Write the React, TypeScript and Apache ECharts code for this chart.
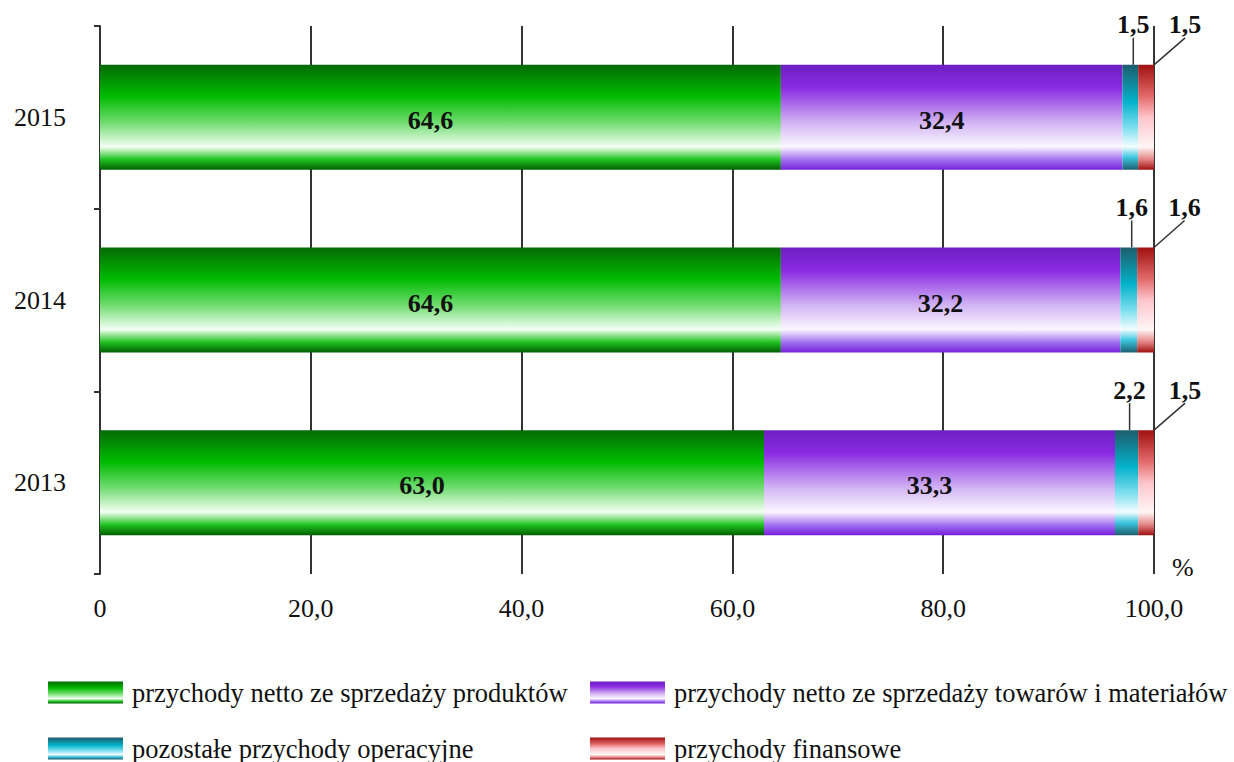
import React, { useEffect, useRef } from "react";
import * as echarts from "echarts";

const years = ["2013", "2014", "2015"];
const seriesNames = [
  "przychody netto ze sprzedaży produktów",
  "przychody netto ze sprzedaży towarów i materiałów",
  "pozostałe przychody operacyjne",
  "przychody finansowe",
];
const produkty = [63.0, 64.6, 64.6];
const towary = [33.3, 32.2, 32.4];
const pozostale = [2.2, 1.6, 1.5];
const finansowe = [1.5, 1.6, 1.5];
const xTicks = [0, 20, 40, 60, 80, 100];

const FONT = "'Liberation Serif', 'Times New Roman', serif";
const FS = 26;

const grad = (stops: [number, string][]) =>
  new echarts.graphic.LinearGradient(
    0,
    0,
    0,
    1,
    stops.map(([offset, color]) => ({ offset, color }))
  );

const greenGrad = () =>
  grad([
    [0, "#056a05"],
    [0.3, "#00bb00"],
    [0.55, "#70dc70"],
    [0.78, "#f4fff4"],
    [0.9, "#22c422"],
    [1, "#005e00"],
  ]);
const purpleGrad = () =>
  grad([
    [0, "#6c1fc4"],
    [0.22, "#8a2be2"],
    [0.55, "#d2b4f4"],
    [0.78, "#fbf7ff"],
    [0.9, "#a474f0"],
    [1, "#7420dc"],
  ]);
const cyanGrad = () =>
  grad([
    [0, "#1d5d6d"],
    [0.35, "#03b2ca"],
    [0.6, "#7fdff0"],
    [0.78, "#f2fdff"],
    [0.88, "#3ec8e0"],
    [1, "#1a5f70"],
  ]);
const redGrad = () =>
  grad([
    [0, "#a01010"],
    [0.3, "#e26a6a"],
    [0.5, "#ffc4cb"],
    [0.78, "#fff6f6"],
    [0.9, "#e48484"],
    [1, "#a01010"],
  ]);

const fmt = (v: number) => v.toFixed(1).replace(".", ",");

export default function App() {
  const ref = useRef<HTMLDivElement>(null);

  useEffect(() => {
    if (!ref.current) return;
    const chart = echarts.init(ref.current, null, { renderer: "svg" });

    const insideLabel = {
      show: true,
      position: "inside",
      offset: [-10, 3],
      fontFamily: FONT,
      fontSize: FS,
      fontWeight: "bold",
      color: "#111",
      formatter: (p: any) => fmt(p.value),
    };
    const outsideLabel = {
      show: true,
      position: "top",
      fontFamily: FONT,
      fontSize: FS,
      fontWeight: "bold",
      color: "#111",
      formatter: (p: any) => fmt(p.value),
    };
    const leader = {
      show: true,
      lineStyle: { color: "#333", width: 1.5 },
    };

    const barWidth = 105;

    const legendCommon = {
      orient: "vertical",
      top: 674,
      height: 90,
      itemWidth: 75,
      itemHeight: 22,
      itemGap: 29,
      icon: "rect",
      textStyle: { fontFamily: FONT, fontSize: 26.5, color: "#111", padding: [0, 0, 0, 4] },
    };

    chart.setOption({
      animation: false,
      backgroundColor: "#fff",
      textStyle: { fontFamily: FONT },
      grid: { left: 100, right: 80, top: 26, bottom: 188, containLabel: false },
      xAxis: {
        type: "value",
        min: xTicks[0],
        max: xTicks[xTicks.length - 1],
        interval: xTicks[1] - xTicks[0],
        axisLine: { show: false },
        axisTick: { show: false },
        splitLine: { show: true, lineStyle: { color: "#333", width: 2 } },
        axisLabel: {
          fontFamily: FONT,
          fontSize: FS,
          color: "#111",
          margin: 21,
          formatter: (v: number) => (v === 0 ? "0" : fmt(v)),
        },
        name: "%",
        nameLocation: "end",
        nameGap: 18,
        nameTextStyle: {
          fontFamily: FONT,
          fontSize: FS,
          color: "#111",
          verticalAlign: "bottom",
          lineHeight: 14,
        },
      },
      yAxis: {
        type: "category",
        data: years,
        axisLine: { show: true, lineStyle: { color: "#333", width: 2 } },
        axisTick: { show: true, length: 6, lineStyle: { color: "#333", width: 2 } },
        axisLabel: {
          fontFamily: FONT,
          fontSize: FS,
          color: "#111",
          margin: 34,
          padding: [4, 0, 0, 0],
        },
      },
      legend: [
        { ...legendCommon, data: [seriesNames[0], seriesNames[2]], left: 43 },
        { ...legendCommon, data: [seriesNames[1], seriesNames[3]], left: 585 },
      ],
      series: [
        {
          name: seriesNames[0],
          type: "bar",
          stack: "total",
          barWidth,
          data: produkty,
          itemStyle: { color: greenGrad() },
          label: insideLabel,
        },
        {
          name: seriesNames[1],
          type: "bar",
          stack: "total",
          barWidth,
          data: towary,
          itemStyle: { color: purpleGrad() },
          label: insideLabel,
        },
        {
          name: seriesNames[2],
          type: "bar",
          stack: "total",
          barWidth,
          data: pozostale,
          itemStyle: { color: cyanGrad() },
          label: outsideLabel,
          labelLine: leader,
          labelLayout: (p: any) => ({
            x: p.rect.x + p.rect.width / 2 + 3,
            y: p.rect.y - 40,
            align: "center",
            verticalAlign: "middle",
          }),
        },
        {
          name: seriesNames[3],
          type: "bar",
          stack: "total",
          barWidth,
          data: finansowe,
          itemStyle: { color: redGrad() },
          label: outsideLabel,
          labelLine: leader,
          labelLayout: (p: any) => ({
            x: p.rect.x + p.rect.width / 2 + 39,
            y: p.rect.y - 40,
            align: "center",
            verticalAlign: "middle",
          }),
        },
      ],
    });

    return () => chart.dispose();
  }, []);

  return (
    <div
      ref={ref}
      style={{ position: "fixed", left: 0, top: 0, width: 1234, height: 762 }}
    />
  );
}
